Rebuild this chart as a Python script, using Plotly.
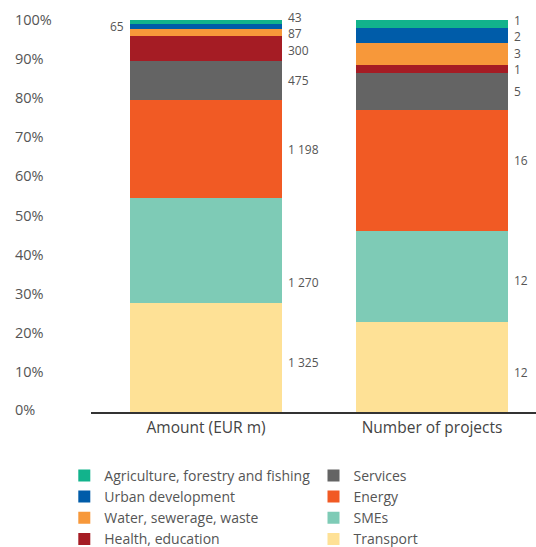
import numpy as np
import plotly.graph_objects as go

# data
categories = ["Amount (EUR m)", "Number of projects"]
sectors = ["Transport", "SMEs", "Energy", "Services", "Health, education",
           "Water, sewerage, waste", "Urban development", "Agriculture, forestry and fishing"]
amount = [1325, 1270, 1198, 475, 300, 87, 65, 43]
projects = [12, 12, 16, 5, 1, 3, 2, 1]
amount_text = ["1 325", "1 270", "1 198", "475", "300", "87", "65", "43"]
projects_text = ["12", "12", "16", "5", "1", "3", "2", "1"]
y_ticks = [0, 10, 20, 30, 40, 50, 60, 70, 80, 90, 100]

colors = ["#fee196", "#7ecbb6", "#f15a24", "#646464", "#a51c24",
          "#f7983a", "#005ca9", "#12b38c"]
# which legend column each sector goes in
legend_col = ["legend2", "legend2", "legend2", "legend2", "legend", "legend", "legend", "legend"]

FONT = "Open Sans"
GREY = "#555555"
bargap = 0.33
half = (1 - bargap) / 2

fig = go.Figure()
for i, s in enumerate(sectors):
    fig.add_trace(go.Bar(
        x=categories, y=[amount[i], projects[i]], name=s,
        marker=dict(color=colors[i], line=dict(width=0)),
        legend=legend_col[i], hoverinfo="name+y",
    ))

annotations = []
# percentage tick labels, left aligned
for t in y_ticks:
    annotations.append(dict(
        x=0, xref="paper", xshift=-78, xanchor="left",
        y=t, yref="y", yshift=3 if t == 0 else 1, yanchor="middle",
        text=f"{t}%", showarrow=False,
        font=dict(family=FONT, size=14.5, color=GREY)))

# value labels next to each segment (pixel nudges where the original deviates)
tweak_amount = {0: -5, 1: -32, 4: -2, 5: -1, 7: 4}
tweak_projects = {0: -6, 1: -4, 2: 10, 6: -1, 7: 3}
for ci, (vals, txt, tweak) in enumerate([(amount, amount_text, tweak_amount),
                                          (projects, projects_text, tweak_projects)]):
    v = np.array(vals, dtype=float)
    pct = v / v.sum() * 100
    top = np.cumsum(pct)
    mid = top - pct / 2
    for i in range(len(v)):
        left_side = (ci == 0 and sectors[i] == "Urban development")
        annotations.append(dict(
            x=ci - half if left_side else ci + half, xref="x",
            xanchor="right" if left_side else "left",
            xshift=-4 if left_side else 4,
            y=mid[i], yref="y", yshift=tweak.get(i, 0), yanchor="middle",
            text=txt[i], showarrow=False,
            font=dict(family=FONT, size=12, color=GREY)))

legend_style = dict(xanchor="left", yanchor="top", traceorder="reversed",
                    font=dict(family=FONT, size=14, color=GREY),
                    itemclick=False, tracegroupgap=0)

fig.update_layout(
    width=536, height=547,
    margin=dict(l=91, r=0, t=20, b=135, autoexpand=False),
    paper_bgcolor="white", plot_bgcolor="white",
    barmode="stack", barnorm="percent", bargap=bargap,
    font=dict(family=FONT, size=15, color=GREY),
    xaxis=dict(range=[-0.509, 1.46], showline=True, linecolor="#333333", linewidth=2,
               ticks="", showgrid=False, tickfont=dict(size=15.5, color="#444444")),
    yaxis=dict(range=[0, 100], showticklabels=False, showgrid=False,
               zeroline=False, ticks=""),
    legend=dict(x=-0.06, y=-0.122, **legend_style),
    legend2=dict(x=0.5, y=-0.122, **legend_style),
    annotations=annotations,
)

# the page body has a default 8px margin; remove it so the figure sits at 0,0
fig.write_html("out.html", config={"displayModeBar": False},
               post_script="document.body.style.margin='0';")
